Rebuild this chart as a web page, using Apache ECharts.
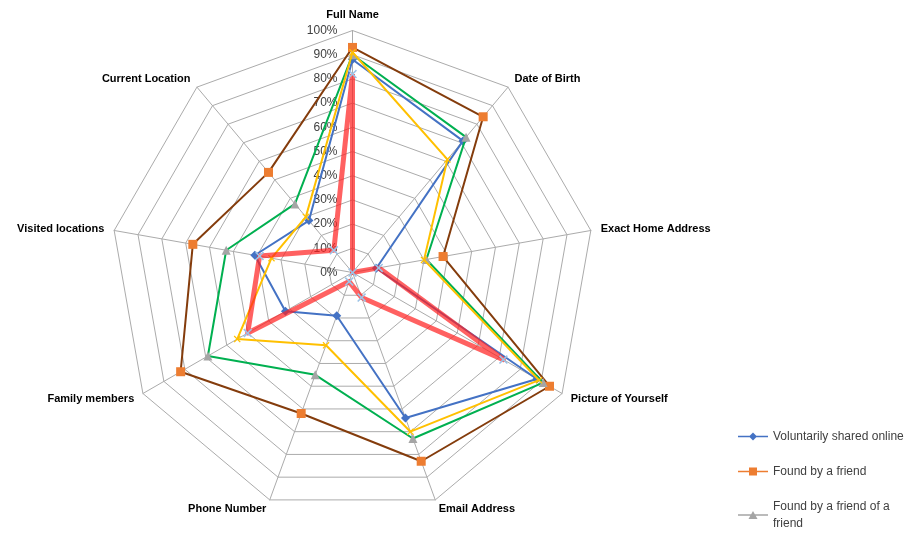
<!DOCTYPE html>
<html>
<head>
<meta charset="utf-8">
<title>Radar</title>
<script src="https://cdn.jsdelivr.net/npm/echarts@6/dist/echarts.min.js"></script>
<style>
  html, body { margin: 0; padding: 0; background: #fff; }
  #chart { width: 916px; height: 535px; }
</style>
</head>
<body>
<div id="chart"></div>
<script>
// categories listed clockwise starting from the top axis
const categories = [
  'Full Name', 'Date of Birth', 'Exact Home Address', 'Picture of Yourself',
  'Email Address', 'Phone Number', 'Family members', 'Visited locations', 'Current Location'
]

const voluntarilyShared = [88, 71, 10, 88, 64, 19, 32, 41, 28]
const foundByFriend = [93, 84, 38, 94, 83, 62, 82, 67, 54]
const foundByFriendOfFriend = [90, 73, 31, 91, 73, 45, 69, 53, 37]
const fourthSeries = [91, 61, 30, 89, 70, 32, 55, 34, 30]
const fifthSeries = [82, 0, 11, 72, 11, 4, 50, 39, 12]

const legendNames = ['Voluntarily shared online', 'Found by a friend', 'Found by a friend of a friend']

// echarts lays indicators out counter-clockwise, so flip the order (keep index 0 on top)
const order = [0].concat(categories.map((_, i) => i).slice(1).reverse())
const pick = (arr) => order.map((i) => arr[i])

const chart = echarts.init(document.getElementById('chart'))

const indicator = pick(categories).map((name, i) => {
  const ind = { name, min: 0, max: 100 }
  if (i === 0) {
    ind.axisLabel = {
      show: true, formatter: '{value}%', color: '#404040', fontSize: 12,
      margin: 15, fontFamily: 'Liberation Sans'
    }
  }
  return ind
})

const xPath = 'path://M0,1L1,0L4,3L7,0L8,1L5,4L8,7L7,8L4,5L1,8L0,7L3,4Z'

const mkSeries = (name, data, lineColor, symbol, symbolColor, symbolSize, width, z) => ({
  type: 'radar',
  name,
  z,
  symbol,
  symbolSize,
  itemStyle: { color: symbolColor },
  lineStyle: { color: lineColor, width },
  data: [{ value: pick(data), name }]
})

chart.setOption({
  backgroundColor: '#ffffff',
  animation: false,
  textStyle: { fontFamily: 'Liberation Sans' },
  legend: {
    orient: 'vertical',
    left: 738,
    top: 428,
    height: 150,
    padding: 0,
    itemGap: 18,
    itemWidth: 30,
    itemHeight: 8,
    formatter: (name) => (name === legendNames[2] ? 'Found by a friend of a\nfriend' : name),
    textStyle: { color: '#404040', fontSize: 12, fontFamily: 'Liberation Sans', lineHeight: 17 },
    data: [
      { name: legendNames[0], icon: 'path://M0,3.3h30v1.4h-30z M15,0L19,4L15,8L11,4Z', itemStyle: { color: '#4472c4' } },
      { name: legendNames[1], icon: 'path://M0,3.3h30v1.4h-30z M11,0h8v8h-8z', itemStyle: { color: '#ed7d31' } },
      { name: legendNames[2], icon: 'path://M0,3.3h30v1.4h-30z M15,0L19.5,8L10.5,8Z', itemStyle: { color: '#a5a5a5' } }
    ]
  },
  radar: {
    center: [352.5, 272.5],
    radius: 242,
    startAngle: 90,
    shape: 'polygon',
    splitNumber: 10,
    indicator,
    axisName: { color: '#000000', fontSize: 11, fontWeight: 'bold', fontFamily: 'Liberation Sans' },
    nameGap: 10,
    axisLine: { lineStyle: { color: '#ababab', width: 1 } },
    splitLine: { lineStyle: { color: '#ababab', width: 1 } },
    splitArea: { show: false },
    axisTick: { show: false },
    axisLabel: { show: false }
  },
  series: [
    mkSeries(legendNames[0], voluntarilyShared, '#4472c4', 'diamond', '#4472c4', 9, 2, 2),
    mkSeries(legendNames[1], foundByFriend, '#843c0c', 'rect', '#ed7d31', 9, 2, 3),
    mkSeries(legendNames[2], foundByFriendOfFriend, '#00b050', 'triangle', '#a5a5a5', 9, 2, 4),
    mkSeries('Series 4', fourthSeries, '#ffc000', xPath, '#ffc000', 7, 2, 5),
    mkSeries('Series 5', fifthSeries, 'rgba(255, 30, 30, 0.7)', xPath, '#9dc3e6', 9, 5, 6)
  ]
})
</script>
</body>
</html>
